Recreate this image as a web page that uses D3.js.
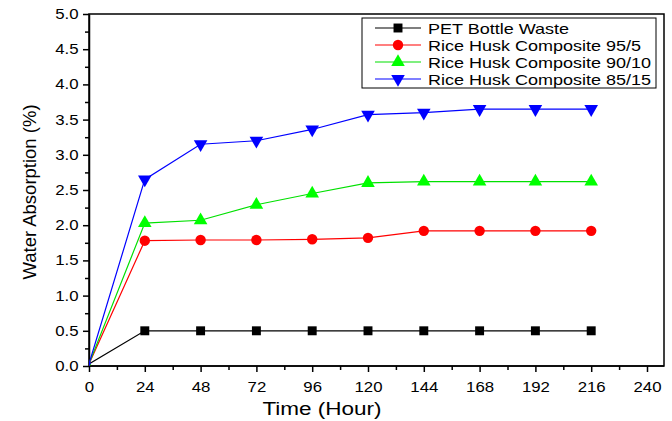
<!DOCTYPE html>
<html lang="en">
<head>
<meta charset="utf-8">
<title>Water Absorption</title>
<style>
body { margin: 0; background: #fff; font-family: "Liberation Sans", Arial, sans-serif; }
.axis text { font-family: "Liberation Sans", Arial, sans-serif; font-size: 14px; fill: #000; }
.axis path, .axis line { stroke: #000; stroke-width: 1.5; }
</style>
<script src="https://d3js.org/d3.v7.min.js"></script>
</head>
<body>
<div id="chart"></div>
<script>
// data
const hours = [0, 24, 48, 72, 96, 120, 144, 168, 192, 216];
const petWaste = [0.03, 0.5, 0.5, 0.5, 0.5, 0.5, 0.5, 0.5, 0.5, 0.5];
const rh95 = [0.03, 1.78, 1.79, 1.79, 1.80, 1.82, 1.92, 1.92, 1.92, 1.92];
const rh90 = [0.03, 2.03, 2.07, 2.29, 2.45, 2.60, 2.62, 2.62, 2.62, 2.62];
const rh85 = [0.03, 2.65, 3.15, 3.20, 3.36, 3.57, 3.60, 3.65, 3.65, 3.65];
const seriesNames = ["PET Bottle Waste", "Rice Husk Composite 95/5", "Rice Husk Composite 90/10", "Rice Husk Composite 85/15"];
const xTicks = [0, 24, 48, 72, 96, 120, 144, 168, 192, 216, 240];
const yTicks = [0, 0.5, 1, 1.5, 2, 2.5, 3, 3.5, 4, 4.5, 5];

const width = 672, height = 421;
const mLeft = 89, mTop = 14, mRight = 664, mBottom = 366;

// the original text is drawn a bit wider than normal Arial
function stretch(sel, k) {
    sel.each(function () {
        const len = this.getComputedTextLength();
        d3.select(this).attr("textLength", len * k).attr("lengthAdjust", "spacingAndGlyphs");
    });
}

const svg = d3.select("#chart").append("svg")
    .attr("width", width)
    .attr("height", height);

const x = d3.scaleLinear().domain([0, 240]).range([mLeft, 647]);
const y = d3.scaleLinear().domain([0, 5]).range([mBottom, mTop]);

// frame
svg.append("rect")
    .attr("x", mLeft).attr("y", mTop)
    .attr("width", mRight - mLeft).attr("height", mBottom - mTop)
    .attr("fill", "none").attr("stroke", "#000").attr("stroke-width", 1.5);

// axes
const xAxis = svg.append("g").attr("class", "axis")
    .attr("transform", "translate(0," + mBottom + ")")
    .call(d3.axisBottom(x).tickValues(xTicks).tickSize(6).tickSizeOuter(0).tickFormat(d3.format("d")));
xAxis.select(".domain").attr("d", "M" + mLeft + ",0H" + mRight);
xAxis.selectAll("text").attr("dy", "1.2em").call(stretch, 1.2);
svg.append("g").attr("class", "axis")
    .attr("transform", "translate(0," + mBottom + ")")
    .call(d3.axisBottom(x).tickValues(d3.range(12, 240, 24)).tickSize(4).tickFormat(""))
    .select(".domain").remove();

const yAxis = svg.append("g").attr("class", "axis")
    .attr("transform", "translate(" + mLeft + ",0)")
    .call(d3.axisLeft(y).tickValues(yTicks).tickSize(6).tickSizeOuter(0).tickFormat(d3.format(".1f")));
yAxis.selectAll("text").attr("dx", "-0.1em").call(stretch, 1.2);
svg.append("g").attr("class", "axis")
    .attr("transform", "translate(" + mLeft + ",0)")
    .call(d3.axisLeft(y).tickValues(d3.range(0.25, 5, 0.5)).tickSize(4).tickFormat(""))
    .select(".domain").remove();

// axis titles
svg.append("text")
    .attr("x", 322).attr("y", 415)
    .attr("text-anchor", "middle")
    .style("font-size", "18px")
    .text("Time (Hour)")
    .call(stretch, 1.25);
svg.append("text")
    .attr("transform", "translate(36,192) rotate(-90)")
    .attr("text-anchor", "middle")
    .style("font-size", "18.5px")
    .text("Water Absorption (%)");

const series = [
    { name: seriesNames[0], values: petWaste, color: "#000000", fill: "#000000", marker: "square" },
    { name: seriesNames[1], values: rh95, color: "#ff0000", fill: "#ff0000", marker: "circle" },
    { name: seriesNames[2], values: rh90, color: "#00e000", fill: "#00ff00", marker: "up" },
    { name: seriesNames[3], values: rh85, color: "#0000ff", fill: "#0000ff", marker: "down" }
];

const symbols = {
    square: d3.symbol().type(d3.symbolSquare).size(80),
    circle: d3.symbol().type(d3.symbolCircle).size(85),
    up: d3.symbol().type(d3.symbolTriangle).size(80),
    down: d3.symbol().type(d3.symbolTriangle).size(80)
};

svg.append("clipPath").attr("id", "clip")
    .append("rect").attr("x", mLeft).attr("y", mTop)
    .attr("width", mRight - mLeft).attr("height", mBottom - mTop);

const plot = svg.append("g").attr("clip-path", "url(#clip)");
const line = d3.line().x((d, i) => x(hours[i])).y(d => y(d));

series.forEach(function (s) {
    plot.append("path")
        .attr("d", line(s.values))
        .attr("fill", "none")
        .attr("stroke", s.color)
        .attr("stroke-width", 1.2);
    plot.selectAll(null)
        .data(s.values)
        .enter()
        .append("path")
        .attr("d", symbols[s.marker])
        .attr("fill", s.fill)
        .attr("transform", function (d, i) {
            const sc = i === 0 ? 0.35 : 1;
            return "translate(" + x(hours[i]) + "," + y(d) + ")" +
                (s.marker === "down" ? " rotate(180)" : "") + " scale(" + sc + ")";
        });
});

// legend
const lg = svg.append("g");
lg.append("rect")
    .attr("x", 362).attr("y", 18)
    .attr("width", 294).attr("height", 70)
    .attr("fill", "#fff").attr("stroke", "#000").attr("stroke-width", 1);
series.forEach(function (s, i) {
    const ly = 28 + i * 17;
    lg.append("line")
        .attr("x1", 375).attr("x2", 421)
        .attr("y1", ly).attr("y2", ly)
        .attr("stroke", s.color).attr("stroke-width", 1.2);
    lg.append("path")
        .attr("d", symbols[s.marker])
        .attr("fill", s.fill)
        .attr("transform", "translate(398," + ly + ")" + (s.marker === "down" ? " rotate(180)" : ""));
    lg.append("text")
        .attr("x", 428).attr("y", ly + 5.5)
        .style("font-size", "15px")
        .text(s.name)
        .call(stretch, 1.2);
});
</script>
</body>
</html>
